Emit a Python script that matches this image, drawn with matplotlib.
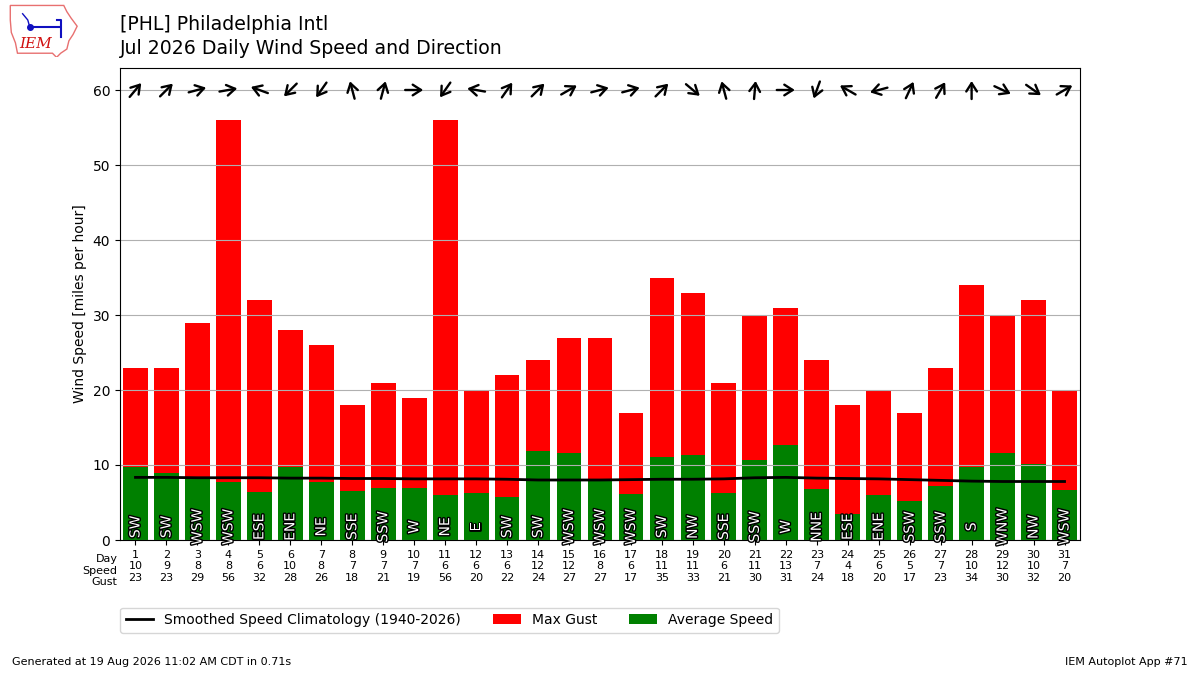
import matplotlib
matplotlib.use("Agg")
import matplotlib.pyplot as plt
import matplotlib.patheffects as pe
from matplotlib.text import OffsetFrom
from matplotlib.patches import Polygon
import numpy as np

days = list(range(1, 32))
avg_speed = [9.8, 8.95, 8.3, 7.8, 6.45, 9.8, 7.8, 6.55, 7.0, 7.0, 6.0, 6.3, 5.75, 11.9, 11.55,
             8.0, 6.2, 11.1, 11.35, 6.3, 10.7, 12.7, 6.8, 3.5, 6.0, 5.2, 7.25, 9.75, 11.6, 10.15, 6.7]
speed_rounded = [10, 9, 8, 8, 6, 10, 8, 7, 7, 7, 6, 6, 6, 12, 12,
                 8, 6, 11, 11, 6, 11, 13, 7, 4, 6, 5, 7, 10, 12, 10, 7]
max_gust = [23, 23, 29, 56, 32, 28, 26, 18, 21, 19, 56, 20, 22, 24, 27,
            27, 17, 35, 33, 21, 30, 31, 24, 18, 20, 17, 23, 34, 30, 32, 20]
drct_text = ["SW", "SW", "WSW", "WSW", "ESE", "ENE", "NE", "SSE", "SSW", "W", "NE", "E", "SW", "SW", "WSW",
             "WSW", "WSW", "SW", "NW", "SSE", "SSW", "W", "NNE", "ESE", "ENE", "SSW", "SSW", "S", "WNW", "NW", "WSW"]
# direction the arrow points to (compass degrees)
arrow_to = [40, 45, 75, 80, 290, 225, 215, 345, 15, 90, 215, 280, 35, 45, 60,
            75, 75, 45, 130, 345, 5, 90, 200, 300, 255, 25, 30, 0, 115, 125, 60]
climo = [8.35, 8.35, 8.3, 8.3, 8.3, 8.25, 8.25, 8.2, 8.2, 8.15, 8.15, 8.15, 8.1, 8.0, 8.0,
         8.0, 8.05, 8.1, 8.1, 8.15, 8.3, 8.35, 8.25, 8.2, 8.15, 8.05, 7.95, 7.85, 7.8, 7.8, 7.8]

fig = plt.figure(figsize=(12, 6.75), dpi=100)
ax = fig.add_axes([0.1, 0.2, 0.8, 0.7])

gust_bars = ax.bar(days, max_gust, width=0.8, color="r")
avg_bars = ax.bar(days, avg_speed, width=0.8, color="g")
climo_line, = ax.plot(days, climo, color="k", lw=2)

for d, txt in zip(days, drct_text):
    ax.text(d, 1.75, txt, rotation=90, ha="center", va="center", fontsize=10, color="white",
            path_effects=[pe.withStroke(linewidth=2, foreground="k")], zorder=5)

L = 6.5
for d, ang in zip(days, arrow_to):
    dx = L * np.sin(np.radians(ang))
    dy = L * np.cos(np.radians(ang))
    ref = OffsetFrom(ax.transData, (d, 60), unit="points")
    ax.annotate("", xy=(dx, dy), xycoords=ref, xytext=(-dx, -dy), textcoords=ref,
                arrowprops=dict(arrowstyle="->,head_length=0.5,head_width=0.32", lw=1.7,
                                color="k", shrinkA=0, shrinkB=0, mutation_scale=12),
                annotation_clip=False, zorder=6)

ax.set_xlim(0.5, 31.5)
ax.set_ylim(0, 63)
ax.set_yticks(range(0, 61, 10))
ax.grid(axis="y", color="#b0b0b0")
ax.set_ylabel("Wind Speed [miles per hour]")
ax.set_xticks(days)
ax.set_xticklabels([f"{d}\n{s}\n{g}" for d, s, g in zip(days, speed_rounded, max_gust)], fontsize=8)
ax.text(0.42, -0.03, "Day\nSpeed\nGust", transform=ax.get_xaxis_transform(), ha="right", va="top",
        fontsize=8)

ax.legend([climo_line, gust_bars, avg_bars],
          ["Smoothed Speed Climatology (1940-2026)", "Max Gust", "Average Speed"],
          loc="upper left", bbox_to_anchor=(0, -0.143), borderaxespad=0, ncol=3, fontsize=10,
          columnspacing=2.3)

fig.text(0.1, 1 - 24 / 675, "[PHL] Philadelphia Intl", fontsize=13.6, ha="left", va="center")
fig.text(0.1, 1 - 48 / 675, "Jul 2026 Daily Wind Speed and Direction", fontsize=13.6,
         ha="left", va="center")
fig.text(0.01, 0.015, "Generated at 19 Aug 2026 11:02 AM CDT in 0.71s", fontsize=8, ha="left")
fig.text(0.99, 0.015, "IEM Autoplot App #71", fontsize=8, ha="right")

# rough IEM logo
lax = fig.add_axes([0.006, 0.915, 0.06, 0.08])
lax.set_xlim(0, 70)
lax.set_ylim(0, 52)
lax.axis("off")
iowa = [(3, 50), (55, 50), (58, 44), (62, 38), (68, 30), (64, 22), (60, 16), (58, 8), (52, 4),
        (48, 0), (44, 4), (10, 4), (8, 14), (4, 24), (3, 36)]
lax.add_patch(Polygon(iowa, closed=True, fill=False, ec="#e87070", lw=1))
lax.plot([22, 50], [29, 29], color="#1010c0", lw=1.5)
lax.plot([22], [29], "o", color="#1010c0", ms=4)
lax.plot([48, 52, 52], [36, 36, 20], color="#1010c0", lw=1.5)
lax.plot([15, 20, 22], [42, 36, 29], color="#1010c0", lw=1)
lax.text(28, 13, "IEM", color="#d01010", fontsize=11, style="italic", family="serif",
         ha="center", va="center")

fig.savefig("out.png", dpi=100)
